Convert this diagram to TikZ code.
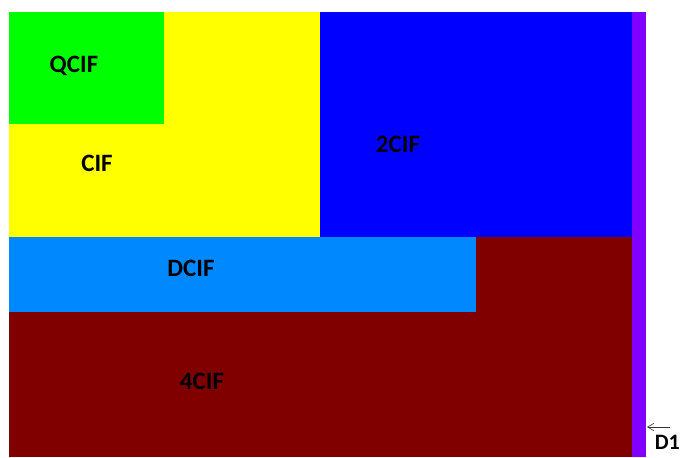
\documentclass[tikz,border=0pt]{standalone}
\usepackage{fontspec}
\setmainfont{Carlito}
\usepackage{tikz}
\usetikzlibrary{arrows.meta,positioning}
\definecolor{qcifc}{HTML}{00FF00}
\definecolor{cifc}{HTML}{FFFF00}
\definecolor{twocifc}{HTML}{0000FF}
\definecolor{dcifc}{HTML}{0088FF}
\definecolor{fourcifc}{HTML}{800000}
\definecolor{donec}{HTML}{8000FF}

\begin{document}
\begin{tikzpicture}[
  x=1pt, y=-1pt,
  lbl/.style={font=\fontsize{25}{28}\selectfont\bfseries, text=black, inner sep=0pt},
  >={Straight Barb[length=2.2mm, width=2.6mm]}
]
\useasboundingbox (0,0) rectangle (684,457);

% format areas, largest first
\fill[fourcifc] (9,237) rectangle (632,457);
\fill[twocifc] (320,12) rectangle (632,237);
\fill[cifc] (9,12) rectangle (320,237);
\fill[qcifc] (9,12) rectangle (164,124);
\fill[dcifc] (9,237) rectangle (476,312);
\fill[donec] (632,12) rectangle (646,457);

\node[lbl] (qcif) at (74,66) {QCIF};
\node[lbl] (cif) at (97,163) {CIF};
\node[lbl] (twocif) at (398,144) {2CIF};
\node[lbl] (dcif) at (191,268) {DCIF};
\node[lbl] (fourcif) at (202,381) {4CIF};
\node[lbl, font=\fontsize{22}{24}\selectfont\bfseries, anchor=south east] (done) at (680,450) {D1};

\coordinate (dtail) at (670,427);
\coordinate (dtip) at (647,427);
\draw[->, black!80, line width=0.6pt] (dtail) -- (dtip);

\end{tikzpicture}
\end{document}
